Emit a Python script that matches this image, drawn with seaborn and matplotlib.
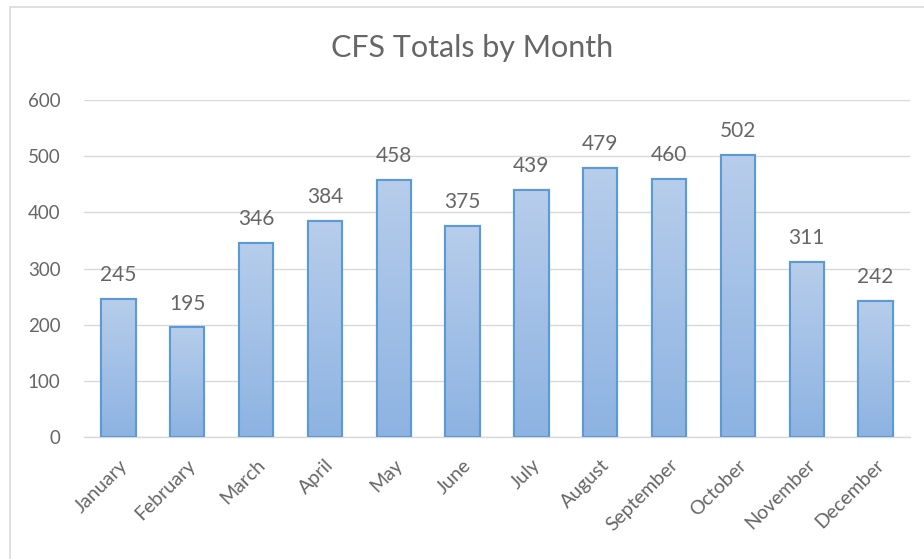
import numpy as np
import pandas as pd
import matplotlib
matplotlib.use("Agg")
import matplotlib.pyplot as plt
from matplotlib.patches import Rectangle
import seaborn as sns

# Datos
months = ["January", "February", "March", "April", "May", "June",
          "July", "August", "September", "October", "November", "December"]
totals = [245, 195, 346, 384, 458, 375, 439, 479, 460, 502, 311, 242]
yticks = [0, 100, 200, 300, 400, 500, 600]

df = pd.DataFrame({"month": months, "total": totals})

sns.set_style("white")
plt.rcParams["font.family"] = ["Lato", "DejaVu Sans"]

text_gray = "#666666"
edge_blue = "#5b9bd5"

fig = plt.figure(figsize=(9.24, 5.59), dpi=100)
ax = fig.add_axes([84 / 924, 1 - 437 / 559, (910 - 84) / 924, (437 - 100) / 559])

sns.barplot(data=df, x="month", y="total", ax=ax, width=0.5,
            color="#a5c3e8", edgecolor=edge_blue, linewidth=1.5, zorder=3)

# Relleno degradado dentro de cada barra
grad = np.linspace(0, 1, 256).reshape(-1, 1)
cmap = matplotlib.colors.LinearSegmentedColormap.from_list("g", ["#8db3e2", "#b7cdeb"])
for bar in ax.patches:
    x0, y0 = bar.get_x(), bar.get_y()
    w, h = bar.get_width(), bar.get_height()
    im = ax.imshow(grad, cmap=cmap, aspect="auto", origin="lower",
                   extent=[x0, x0 + w, y0, y0 + h], zorder=3.5)
    im.set_clip_path(bar)
    outline = Rectangle((x0, y0), w, h, fill=False, edgecolor=edge_blue,
                        linewidth=1.5, zorder=4)
    ax.add_patch(outline)

ax.set_xlim(-0.5, len(months) - 0.5)
ax.set_ylim(0, 600)

# Etiquetas de datos
for i, v in enumerate(totals):
    ax.text(i, v + 32, str(v), ha="center", va="baseline", fontsize=15, color=text_gray)

ax.set_yticks(yticks)
ax.set_yticklabels([str(t) for t in yticks], fontsize=13.5, color=text_gray)
ax.set_xticks(range(len(months)))
ax.set_xticklabels(months, rotation=45, ha="right", rotation_mode="anchor",
                   fontsize=14, color=text_gray)
ax.tick_params(axis="y", length=0, pad=17)
ax.tick_params(axis="x", length=0, pad=14)

ax.yaxis.grid(True, color="#d9d9d9", linewidth=1, zorder=0)
ax.set_axisbelow(True)
for side in ["top", "right", "left"]:
    ax.spines[side].set_visible(False)
ax.spines["bottom"].set_color("#d9d9d9")
ax.spines["bottom"].set_linewidth(1)

ax.set_xlabel("")
ax.set_ylabel("")

fig.text(472 / 924, 1 - 48 / 559, "CFS Totals by Month", ha="center", va="center",
         fontsize=22, color=text_gray)

# Borde del área del gráfico
fig.patches.append(Rectangle((10 / 924, -0.05), 1.0, 1 - 7 / 559 + 0.05,
                             transform=fig.transFigure, fill=False,
                             edgecolor="#d9d9d9", linewidth=1.2))

fig.savefig("out.png", dpi=100)
